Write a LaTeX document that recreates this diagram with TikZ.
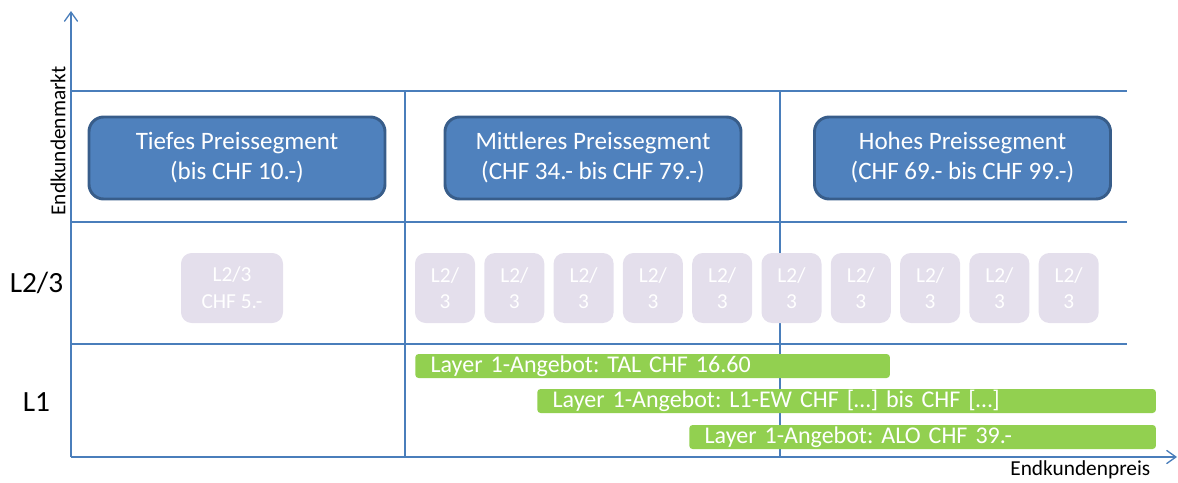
\documentclass[tikz,border=0pt]{standalone}
\usepackage{fontspec}
\setmainfont{Carlito}
\frenchspacing
\usetikzlibrary{arrows.meta}
\definecolor{gridblue}{HTML}{4A7EBB}
\definecolor{segfill}{HTML}{4F81BD}
\definecolor{segdraw}{HTML}{385D8A}
\definecolor{lfill}{HTML}{E4DFEC}
\definecolor{lgreen}{HTML}{92D050}
\tikzset{
  gridline/.style={draw=gridblue, line width=1pt},
  axisline/.style={draw=gridblue, line width=1pt, -{Straight Barb[length=7pt,width=10pt]}},
  segbox/.style={draw=segdraw, fill=segfill, line width=2.2pt, rounded corners=11pt,
    text=white, align=center, font=\fontsize{18.8}{22.5}\selectfont,
    minimum width=222pt, minimum height=61.5pt, inner sep=0pt},
  lbox/.style={fill=lfill, rounded corners=8pt, text=white, align=center,
    font=\fontsize{16}{20}\selectfont, inner sep=0pt, minimum height=52.5pt},
  offer/.style={fill=lgreen, rounded corners=2.5pt, text=white, anchor=west,
    font=\fontsize{18}{20}\selectfont, inner sep=0pt, minimum height=18pt},
  rowlabel/.style={font=\fontsize{22}{24}\selectfont},
  axislabel/.style={font=\fontsize{16}{18}\selectfont}
}
\begin{document}
\begin{tikzpicture}[x=0.75pt, y=-0.75pt]
\useasboundingbox (0,0) rectangle (1178,482);
% axes
\coordinate (O) at (71,457);
\coordinate (ytop) at (71,11);
\coordinate (xend) at (1177,457);
\draw[axisline] (O) -- (ytop);
\draw[axisline] (O) -- (xend);
% grid
\draw[gridline] (71,91) -- (1127,91);
\draw[gridline] (71,222) -- (1127,222);
\draw[gridline] (71,344) -- (1127,344);
\draw[gridline] (405,91) -- (405,457);
\draw[gridline] (780,91) -- (780,457);
% axis labels
\node[axislabel, rotate=90] (ylab) at (58,141) {Endkundenmarkt};
\node[axislabel, anchor=east] (xlab) at (1155,470) {Endkundenpreis};
% row labels
\node[rowlabel] (l23) at (36.5,283) {L2/3};
\node[rowlabel] (l1) at (36.5,402) {L1};
% price segments
\node[segbox] (tief) at (237,158) {Tiefes Preissegment\\(bis CHF 10.-)};
\node[segbox] (mittel) at (593,158) {Mittleres Preissegment\\(CHF 34.- bis CHF 79.-)};
\node[segbox] (hoch) at (962.5,158) {Hohes Preissegment\\(CHF 69.- bis CHF 99.-)};
% L2/3 offers
\node[lbox, minimum width=76.5pt] (lowl23) at (232,288) {L2/3\\CHF 5.-};
\foreach \i in {0,...,9} {
  \node[lbox, minimum width=45pt] (l23box\i) at ({445+69.3*\i},288) {L2/\\3};
}
% Layer 1 offers
\node[offer, minimum width=356pt, text width=333pt] (tal) at (415,366) {Layer 1-Angebot: TAL CHF 16.60};
\node[offer, minimum width=464pt, text width=441pt] (ew) at (537,401) {Layer 1-Angebot: L1-EW CHF [\dots] bis CHF [\dots]};
\node[offer, minimum width=350pt, text width=327pt] (alo) at (689,437) {Layer 1-Angebot: ALO CHF 39.-};
\end{tikzpicture}
\end{document}
